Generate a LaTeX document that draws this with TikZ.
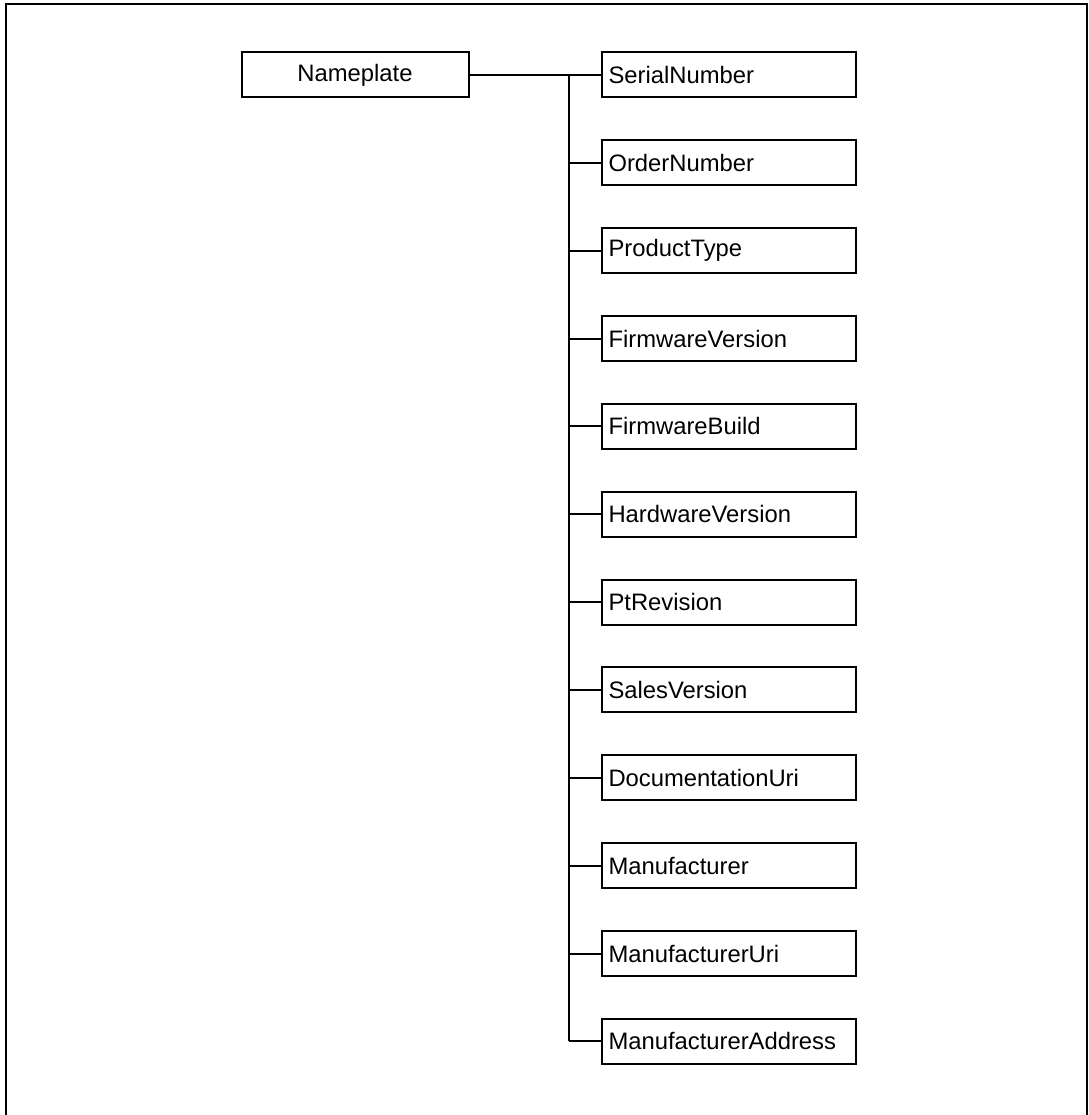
\documentclass[tikz,border=0pt]{standalone}
\usepackage{fontspec}
\setmainfont{Liberation Sans}
\begin{document}
\begin{tikzpicture}[x=1pt,y=-1pt,
  every node/.style={font=\fontsize{23.8}{28}\selectfont},
  rootbox/.style={draw, line width=2pt, minimum width=227pt, minimum height=45pt, inner sep=0pt},
  leafbox/.style={draw, line width=2pt, minimum width=254pt, minimum height=45pt, text width=240pt, align=left, inner sep=0pt, anchor=west},
  link/.style={line width=2pt}]
  \useasboundingbox (0,0) rectangle (1088,1115);
  % outer frame, open at the bottom
  \draw[line width=2pt] (6,1125) -- (6,4) -- (1087,4) -- (1087,1125);
  \node[rootbox] (root) at (355,75) {Nameplate};
  \coordinate (trunktop) at (569,75);
  \foreach \name [count=\i from 0] in {SerialNumber,OrderNumber,ProductType,FirmwareVersion,FirmwareBuild,HardwareVersion,PtRevision,SalesVersion,DocumentationUri,Manufacturer,ManufacturerUri,ManufacturerAddress}{
    \node[leafbox] (c\i) at (600.5,{75+87.85*\i}) {\name};
    \draw[link] (c\i.west) -- (c\i.west -| trunktop);
  }
  \draw[link] (root.east) -- (c0.west);
  \draw[link] (trunktop) -- (c11.west -| trunktop);
\end{tikzpicture}
\end{document}
